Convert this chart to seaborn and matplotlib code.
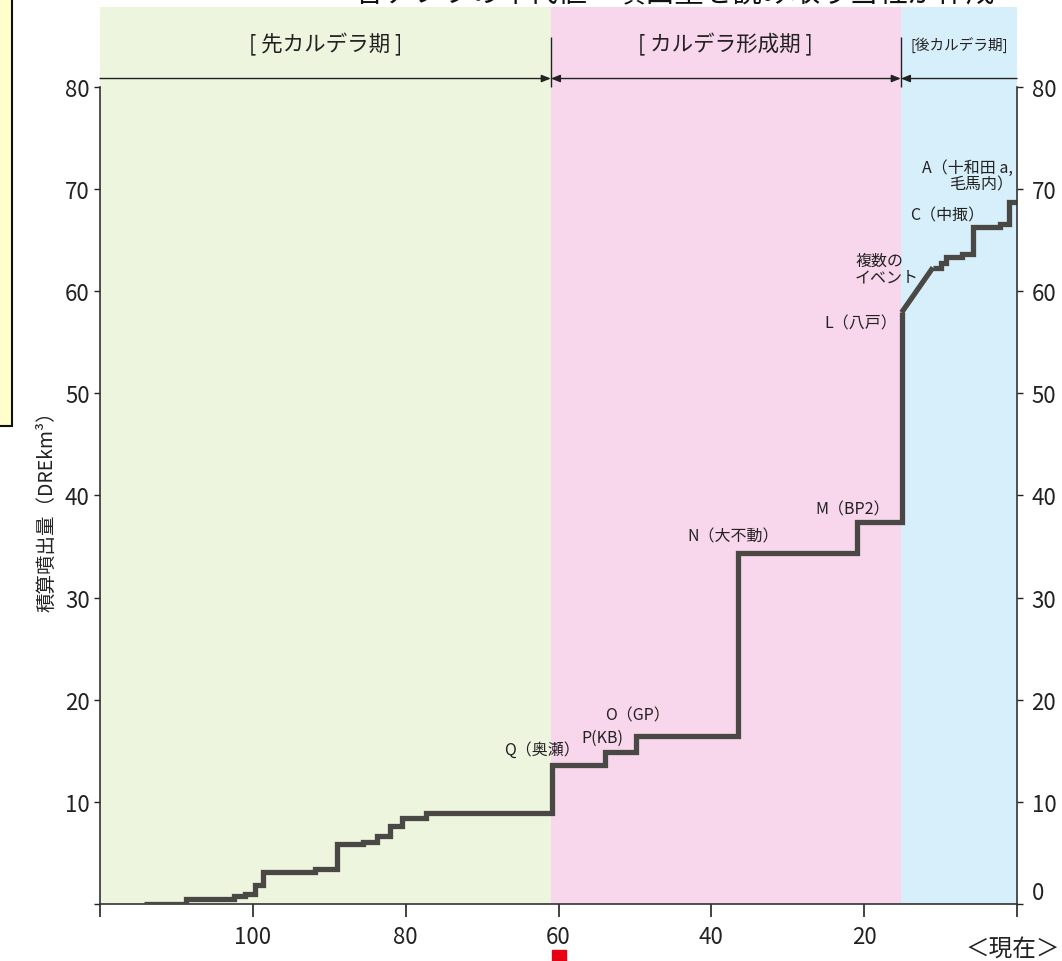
import matplotlib
matplotlib.use("Agg")
import matplotlib.pyplot as plt
import matplotlib.transforms as mtransforms
from matplotlib.patches import Rectangle
import seaborn as sns

# Eruption history: age (ka) and cumulative erupted volume (DRE km3)
pre_age = [114.2, 108.8, 102.5, 101.0, 99.7, 98.7, 91.9, 89.0, 85.6, 83.8,
           82.1, 80.5, 77.3, 60.8, 53.9, 49.9, 36.5, 20.9, 15.1]
pre_volume = [0.0, 0.5, 0.8, 1.0, 1.85, 3.1, 3.4, 5.85, 6.1, 6.7,
              7.6, 8.4, 8.9, 13.6, 14.9, 16.4, 34.4, 37.4, 57.9]
multi_age = [15.1, 11.0]
multi_volume = [57.9, 62.3]
post_age = [11.0, 10.0, 9.3, 7.2, 5.8, 2.2, 1.0, 0.0]
post_volume = [62.3, 62.7, 63.3, 63.6, 66.3, 66.6, 68.75, 68.75]

# Activity periods
period_names = ["[ 先カルデラ期 ]", "[ カルデラ形成期 ]", "[後カルデラ期]"]
period_bounds = [120, 61.0, 15.2, 0]
period_colors = ["#EDF5DE", "#F8D7EC", "#D7EFFB"]
period_fontsize = [15.5, 15.5, 10.5]

# Named eruptions
event_labels = ["Q（奥瀬）", "P(KB)", "O（GP）", "N（大不動）", "M（BP2）",
                "L（八戸）", "複数の\nイベント", "C（中掫）", "A（十和田 a,\n毛馬内）"]
label_x = [57.2, 54.2, 49.6, 37.2, 21.5, 15.7, 21.2, 9.2, 0.5]
label_y = [15.1, 16.3, 18.5, 36.0, 38.7, 56.9, 62.2, 67.4, 71.3]
label_ha = ["right", "center", "center", "center", "center",
            "right", "left", "center", "right"]

x_ticks = [120, 100, 80, 60, 40, 20, 0]
x_ticklabels = ["", "100", "80", "60", "40", "20", ""]
y_ticks = [0, 10, 20, 30, 40, 50, 60, 70, 80]
marker_age = 60

sns.set_style("ticks")
plt.rcParams["font.family"] = ["Noto Sans CJK JP", "DejaVu Sans"]

fig = plt.figure(figsize=(10.62, 9.62), dpi=100)
ax = fig.add_axes([100 / 1062, 57 / 962, 917 / 1062, 897 / 962])
ax.set_xlim(120, 0)
ax.set_ylim(0, 87.8)
ax.patch.set_alpha(0)

# Period backgrounds and headers
for i, name in enumerate(period_names):
    x0, x1 = period_bounds[i], period_bounds[i + 1]
    ax.axvspan(x0, x1, color=period_colors[i], zorder=0, lw=0)
    ax.text((x0 + x1) / 2, 84.2, name, ha="center", va="center",
            fontsize=period_fontsize[i], color="#222222")

arrow_kw = dict(color="#222222", lw=1.0, shrinkA=0, shrinkB=0, mutation_scale=10)
head = ",head_length=0.55,head_width=0.22"
ax.annotate("", xy=(period_bounds[1], 80.8), xytext=(period_bounds[0], 80.8),
            arrowprops=dict(arrowstyle="-|>" + head, **arrow_kw))
ax.annotate("", xy=(period_bounds[2], 80.8), xytext=(period_bounds[1], 80.8),
            arrowprops=dict(arrowstyle="<|-|>" + head, **arrow_kw))
ax.annotate("", xy=(period_bounds[2], 80.8), xytext=(period_bounds[3], 80.8),
            arrowprops=dict(arrowstyle="-|>" + head, **arrow_kw))
ax.vlines(period_bounds[1:3], 80.0, 84.9, color="#222222", lw=1.0)

# Cumulative volume curve
line_kw = dict(color="#4A4845", lw=3.8, ax=ax, sort=False, estimator=None,
               solid_joinstyle="miter", solid_capstyle="butt", zorder=3)
sns.lineplot(x=pre_age, y=pre_volume, drawstyle="steps-post", **line_kw)
sns.lineplot(x=multi_age, y=multi_volume, **line_kw)
sns.lineplot(x=post_age, y=post_volume, drawstyle="steps-post", **line_kw)

for txt, lx, ly, ha in zip(event_labels, label_x, label_y, label_ha):
    ax.text(lx, ly, txt, ha=ha, va="center", fontsize=11.5, color="#222222",
            linespacing=0.95, multialignment="right" if ha == "right" else "left")

# Axes, ticks and spines
for s in ["top", "right"]:
    ax.spines[s].set_visible(False)
ax.spines["left"].set_bounds(0, 80)
ax.spines["bottom"].set_bounds(120, 0)
for s in ["left", "bottom"]:
    ax.spines[s].set_color("#333333")
    ax.spines[s].set_linewidth(1.2)

ax.set_xticks(x_ticks)
ax.set_xticklabels(x_ticklabels)
ax.set_yticks(y_ticks)
ax.set_yticklabels([""] + [str(v) for v in y_ticks[1:]])
ax.tick_params(axis="x", direction="out", length=9, width=1.2, pad=6,
               labelsize=16, colors="#222222")
ax.tick_params(axis="y", direction="out", length=4.5, width=1.0, pad=3,
               labelsize=16, colors="#222222")

twin = ax.twinx()
twin.set_ylim(ax.get_ylim())
for s in ["top", "left", "bottom"]:
    twin.spines[s].set_visible(False)
twin.spines["right"].set_bounds(0, 80)
twin.spines["right"].set_color("#333333")
twin.spines["right"].set_linewidth(1.2)
twin.set_yticks(y_ticks)
twin.set_yticklabels([str(v) for v in y_ticks])
twin.tick_params(axis="y", direction="out", length=4.5, width=1.0, pad=6,
                 labelsize=16, colors="#222222")
twin.get_yticklabels()[0].set_va("bottom")

# Marker below the time axis
trans = mtransforms.blended_transform_factory(ax.transData, ax.transAxes)
ax.plot([marker_age], [-0.059], marker="s", ms=9.6, color="#E60012",
        ls="none", transform=trans, clip_on=False)

fig.text(47 / 1062, 1 - 507 / 962, "積算噴出量（DREkm³）", rotation=90,
         ha="center", va="center", fontsize=14, color="#222222")
fig.text(966 / 1062, 1 - 949 / 962, "＜現在＞", ha="left", va="center",
         fontsize=17, color="#222222")
fig.text(675 / 1062, 1 - 9 / 962, "各テフラの年代値・噴出量を読み取り当社が作成",
         ha="center", va="bottom", fontsize=21, color="#111111")

# Side note box
fig.patches.append(Rectangle((-0.01, 1 - 427 / 962), 0.021, 0.5, transform=fig.transFigure,
                             facecolor="#FFFFCC", edgecolor="#111111", lw=1.5))

fig.savefig("out.png", dpi=100)
